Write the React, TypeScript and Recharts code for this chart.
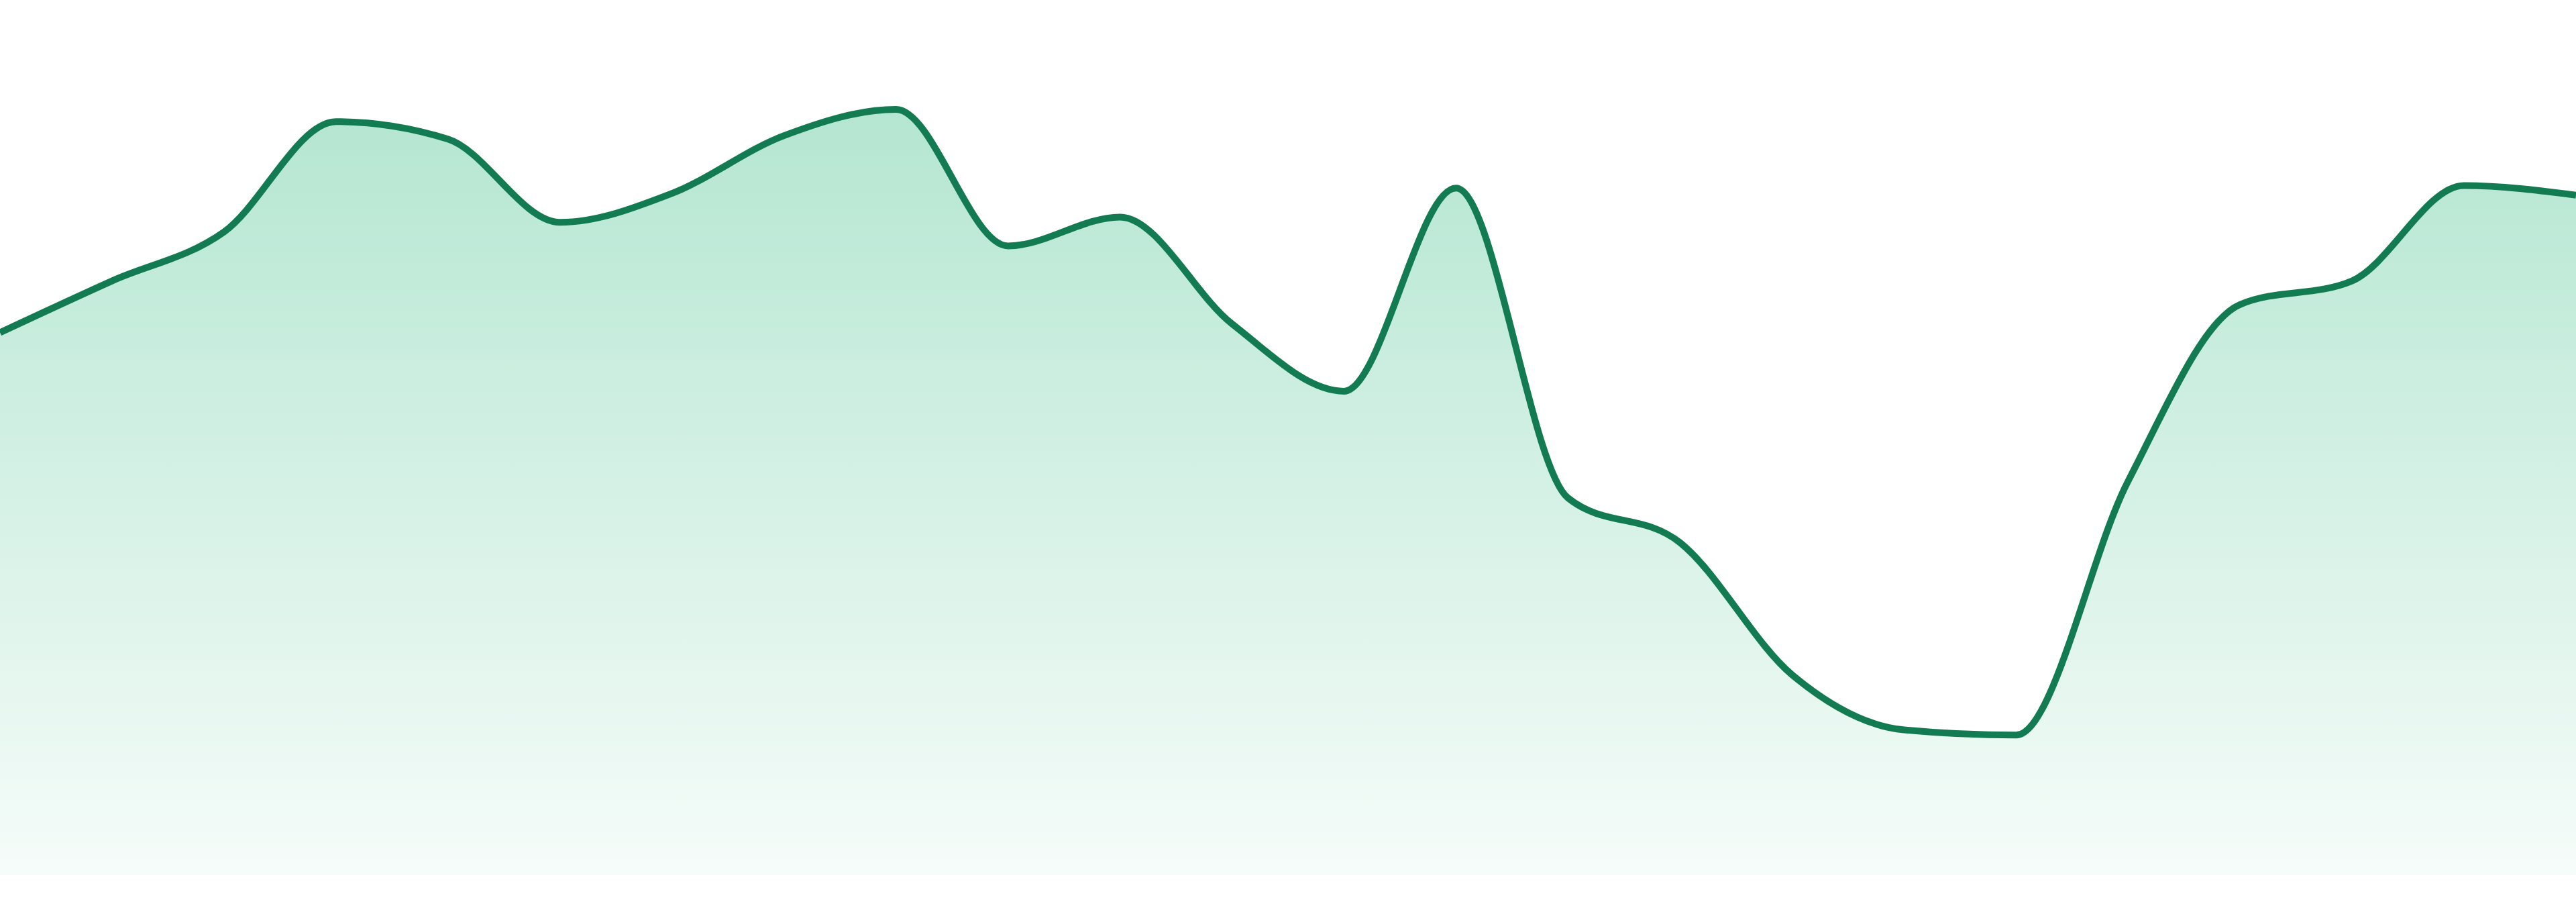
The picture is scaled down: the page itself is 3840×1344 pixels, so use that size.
import { AreaChart, Area, XAxis, YAxis } from 'recharts';

const labels = [
  'P1', 'P2', 'P3', 'P4', 'P5', 'P6', 'P7', 'P8', 'P9', 'P10', 'P11', 'P12',
  'P13', 'P14', 'P15', 'P16', 'P17', 'P18', 'P19', 'P20', 'P21', 'P22', 'P23', 'P24',
];

const values = [
  62.0, 67.9, 73.5, 86.1, 84.1, 74.6, 77.9, 84.5, 87.5, 71.9, 75.2, 63.0,
  55.3, 78.5, 43.1, 38.0, 22.9, 16.6, 16.0, 45.0, 65.2, 67.9, 78.8, 77.7,
];

const data = labels.map((label, i) => ({ label, value: values[i] }));

export default function App() {
  return (
    <div style={{ position: 'absolute', top: 0, left: 0, width: 3840, height: 1344, background: '#fff' }}>
      <AreaChart width={3840} height={1344} data={data} margin={{ top: 0, right: 0, bottom: 40, left: 0 }}>
        <defs>
          <linearGradient id="fillGreen" x1="0" y1="0" x2="0" y2="1">
            <stop offset="0%" stopColor="#b4e6d1" stopOpacity={1} />
            <stop offset="100%" stopColor="#b4e6d1" stopOpacity={0.12} />
          </linearGradient>
        </defs>
        <XAxis dataKey="label" hide />
        <YAxis hide domain={[0, 100]} />
        <Area
          type="monotone"
          dataKey="value"
          stroke="#137b52"
          strokeWidth={10}
          fill="url(#fillGreen)"
          fillOpacity={1}
          dot={false}
          activeDot={false}
          isAnimationActive={false}
        />
      </AreaChart>
    </div>
  );
}
